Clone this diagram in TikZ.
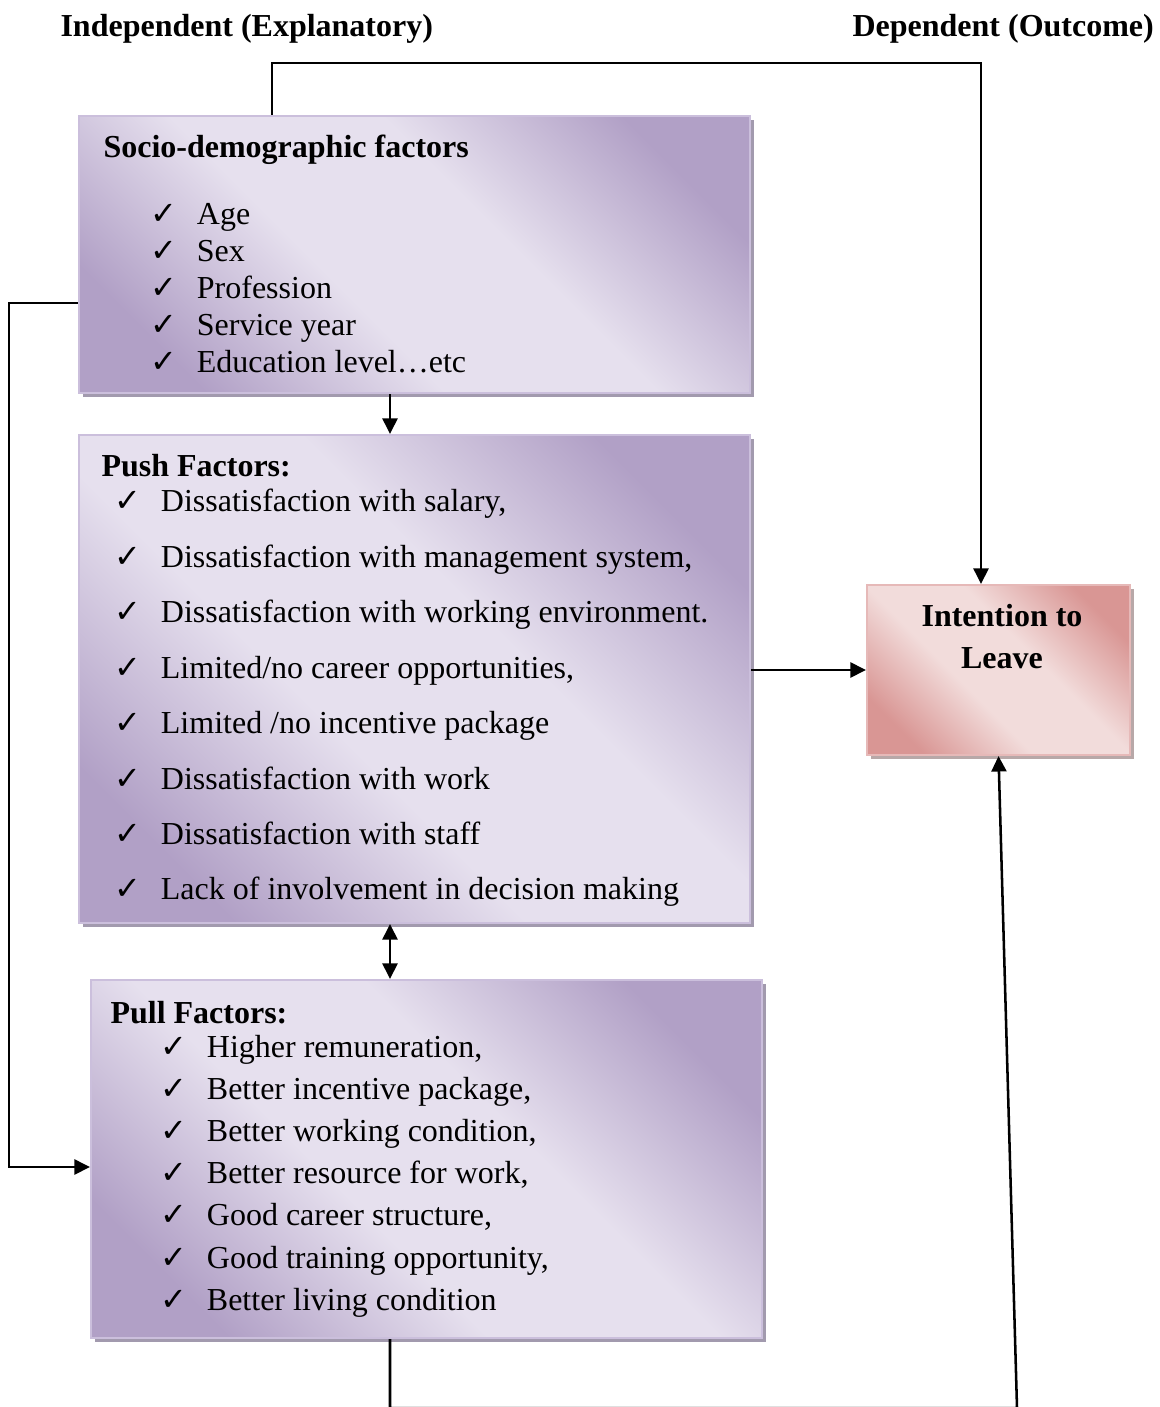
\documentclass[tikz,border=0pt]{standalone}
\usepackage{fontspec}
\setmainfont{Liberation Serif}
\newfontfamily\symf{DejaVu Sans}
\usetikzlibrary{arrows.meta,fit,shadows}
\definecolor{pdark}{HTML}{B1A0C6}
\definecolor{plight}{HTML}{E6E0EE}
\definecolor{pborder}{HTML}{CBBFDC}
\definecolor{pshadow}{HTML}{A29AAE}
\definecolor{rdark}{HTML}{D99694}
\definecolor{rlight}{HTML}{F2DCDB}
\definecolor{rborder}{HTML}{E6B9B8}
\definecolor{rshadow}{HTML}{B8A8A8}
\pgfdeclarehorizontalshading{purp}{100bp}{color(0bp)=(pdark); color(24bp)=(pdark); color(42bp)=(plight); color(58bp)=(plight); color(76bp)=(pdark); color(100bp)=(pdark)}
\pgfdeclarehorizontalshading{pinkish}{100bp}{color(0bp)=(rdark); color(24bp)=(rdark); color(42bp)=(rlight); color(58bp)=(rlight); color(76bp)=(rdark); color(100bp)=(rdark)}
\newcommand{\chk}{\makebox[17.4pt][l]{\symf\fontsize{12}{14}\selectfont ✓}}
\begin{document}
\begin{tikzpicture}[x=0.375pt,y=-0.375pt,
  pbox/.style={inner sep=0pt, draw=pborder, line width=0.8pt, shade, shading=purp, shading angle=45,
    general shadow={fill=pshadow, shadow xshift=1.5pt, shadow yshift=-1.5pt}},
  rbox/.style={inner sep=0pt, draw=rborder, line width=0.8pt, shade, shading=pinkish, shading angle=45,
    general shadow={fill=rshadow, shadow xshift=1.5pt, shadow yshift=-1.5pt}},
  item/.style={anchor=base west, inner sep=0pt, font=\fontsize{12}{14}\selectfont},
  ttl/.style={anchor=base west, inner sep=0pt, font=\fontsize{12}{14}\selectfont\bfseries},
  conn/.style={line width=0.95pt, black},
  arr/.style={conn, -{Triangle[length=5.8pt,width=5.6pt]}},
  darr/.style={conn, {Triangle[length=5.8pt,width=5.6pt]}-{Triangle[length=5.8pt,width=5.6pt]}}]
\useasboundingbox (0,0) rectangle (1160,1407);

% headers
\node[ttl] (h1) at (60,37) {Independent (Explanatory)};
\node[ttl] (h2) at (852,37) {Dependent (Outcome)};

% boxes
\node[pbox, fit={(79,116) (750,393)}] (socio) {};
\node[pbox, fit={(79,435) (750,923)}] (push) {};
\node[pbox, fit={(91,980) (762,1338)}] (pull) {};
\node[rbox, fit={(867,585) (1130,755)}] (intent) {};

% socio text
\node[ttl] (st) at (103,158) {Socio-demographic factors};
\foreach \t [count=\i from 0] in {Age,Sex,Profession,Service year,Education level…etc}
  \node[item] (s\i) at (150,{225+36.8*\i}) {\chk\t};

% push text
\node[ttl] (pt) at (101,477) {Push Factors:};
\foreach \t [count=\i from 0] in {{Dissatisfaction with salary,},{Dissatisfaction with management system,},{Dissatisfaction with working environment.},{Limited/no career opportunities,},{Limited /no incentive package},{Dissatisfaction with work},{Dissatisfaction with staff},{Lack of involvement in decision making}}
  \node[item] (p\i) at (114,{512+55.4*\i}) {\chk\t};

% pull text
\node[ttl] (lt) at (110,1023) {Pull Factors:};
\foreach \t [count=\i from 0] in {{Higher remuneration,},{Better incentive package,},{Better working condition,},{Better resource for work,},{Good career structure,},{Good training opportunity,},{Better living condition}}
  \node[item] (q\i) at (160,{1057+42.2*\i}) {\chk\t};

% intention text
\node[inner sep=0pt, align=center, font=\fontsize{12}{15.5}\selectfont\bfseries, anchor=base] (it) at (1002,668) {Intention to\\Leave};

% connectors
\coordinate (t1) at (272,63);
\coordinate (t2) at (981,63);
\draw[arr] (socio.north -| t1) -- (t1) -- (t2) -- (t2 |- intent.north);

\coordinate (l1) at (9,303);
\coordinate (l2) at (9,1167);
\draw[arr] (socio.west |- l1) -- (l1) -- (l2) -- (l2 -| pull.west);

\coordinate (c1) at (390,0);
\draw[arr] (socio.south -| c1) -- (push.north -| c1);
\draw[darr] (push.south -| c1) -- (pull.north -| c1);

\draw[arr] (push.east |- intent.west) -- (intent.west);

\coordinate (b1) at (390,1408);
\coordinate (b2) at (1017,1408);
\draw[arr] (pull.south -| c1) -- (b1) -- (b2) -- (intent.south);
\end{tikzpicture}
\end{document}
